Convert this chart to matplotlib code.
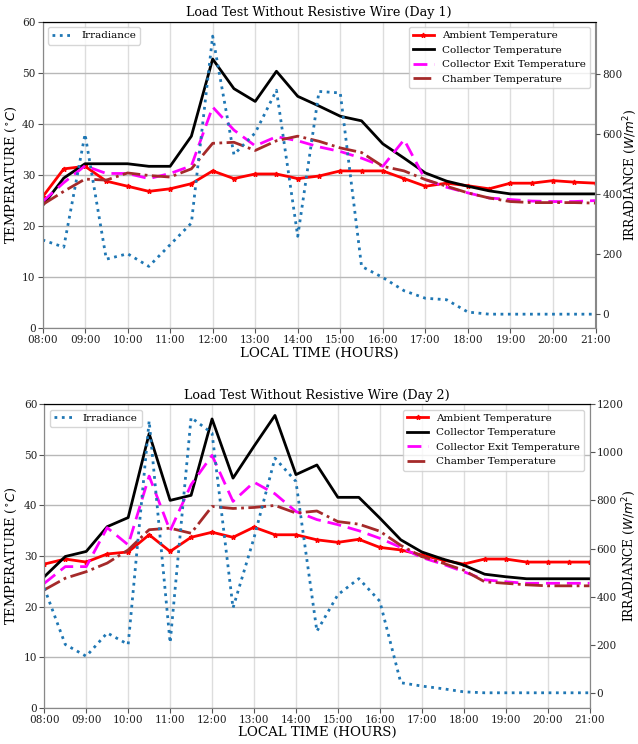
import matplotlib.pyplot as plt

plt.rcParams['font.family'] = ['DejaVu Serif']

# 08:00 - 21:00, every half hour
time_hours = [8 + i * 0.5 for i in range(27)]
hour_ticks = list(range(8, 22))
hour_labels = [f"{h:02d}:00" for h in hour_ticks]

# Day 1
amb1 = [25.7, 31.2, 31.7, 28.8, 27.8, 26.8, 27.3, 28.3, 30.8, 29.3, 30.2, 30.2, 29.3, 29.8,
        30.8, 30.8, 30.8, 29.3, 27.8, 28.4, 27.9, 27.3, 28.4, 28.4, 28.9, 28.6, 28.4]
col1 = [24.0, 29.4, 32.2, 32.2, 32.2, 31.7, 31.7, 37.6, 52.7, 46.9, 44.4, 50.3, 45.4, 43.5,
        41.5, 40.6, 36.1, 33.3, 30.4, 28.8, 27.8, 26.9, 26.3, 26.3, 26.3, 26.3, 26.3]
exit1 = [24.8, 28.5, 31.8, 30.3, 30.3, 29.3, 30.3, 31.8, 43.3, 38.8, 35.7, 37.5, 36.7, 35.5,
         34.6, 33.3, 31.7, 36.9, 29.1, 27.6, 26.5, 25.5, 25.2, 24.9, 24.8, 24.8, 25.0]
cham1 = [24.2, 26.8, 29.2, 29.0, 30.4, 29.9, 29.6, 31.2, 36.2, 36.4, 34.8, 36.7, 37.6, 36.6,
         35.3, 34.4, 31.7, 30.8, 29.1, 27.8, 26.5, 25.5, 24.8, 24.6, 24.6, 24.6, 24.5]
irr1 = [247, 223, 599, 183, 201, 159, 231, 303, 925, 531, 603, 745, 259, 741,
        736, 159, 122, 78, 53, 48, 7, 0, 0, 0, 0, 0, 0]

# Day 2
amb2 = [28.4, 29.4, 28.8, 30.4, 30.8, 34.2, 30.9, 33.7, 34.7, 33.7, 35.7, 34.2, 34.2, 33.2,
        32.7, 33.3, 31.7, 31.2, 30.2, 29.2, 28.4, 29.4, 29.4, 28.8, 28.8, 28.8, 28.8]
col2 = [25.9, 29.9, 30.9, 35.8, 37.6, 54.2, 41.0, 42.0, 57.1, 45.4, 51.7, 57.8, 46.1, 48.0,
        41.6, 41.6, 37.5, 33.2, 30.8, 29.4, 28.2, 26.4, 25.9, 25.5, 25.5, 25.5, 25.5]
exit2 = [24.6, 27.9, 27.9, 35.6, 32.2, 45.8, 35.0, 44.1, 49.9, 40.8, 44.6, 42.3, 38.8, 37.2,
         36.2, 35.0, 33.5, 31.7, 29.7, 28.4, 26.9, 25.3, 24.9, 24.6, 24.6, 24.6, 24.6]
cham2 = [23.3, 25.6, 26.9, 28.6, 31.2, 35.2, 35.5, 34.5, 39.8, 39.4, 39.6, 40.0, 38.5, 38.9,
         36.8, 36.3, 34.9, 32.1, 29.9, 28.6, 27.2, 24.9, 24.6, 24.3, 24.1, 24.1, 24.1]
irr2 = [436, 201, 152, 249, 201, 1131, 208, 1145, 1080, 353, 644, 976, 879, 256,
        408, 475, 381, 42, 28, 17, 4, 0, 0, 0, 0, 0, 0]

W, H = 638, 744
fig = plt.figure(figsize=(W / 100, H / 100), dpi=100)


def draw(rect, day, amb, col, ext, cham, irr, irr_lim, irr_ticks, lab_left, lab_right):
    l, t, r, b = rect
    ax = fig.add_axes([l / W, 1 - b / H, (r - l) / W, (b - t) / H])
    ax2 = ax.twinx()

    ax.plot(time_hours, amb, color="red", lw=2, marker="*", ms=3.5, label="Ambient Temperature")
    ax.plot(time_hours, col, color="black", lw=2, label="Collector Temperature")
    ax.plot(time_hours, ext, color="magenta", lw=2, ls="--", dashes=(5, 2.5),
            label="Collector Exit Temperature")
    ax.plot(time_hours, cham, color="brown", lw=2, ls="-.", label="Chamber Temperature")
    ax2.plot(time_hours, irr, color="tab:blue", lw=2, ls=":", label="Irradiance")

    ax.set_xlim(8, 21)
    ax.set_ylim(0, 60)
    ax.set_xticks(hour_ticks)
    ax.set_xticklabels(hour_labels)
    ax.tick_params(labelsize=7.6, pad=1.5)
    ax2.tick_params(labelsize=7.6, pad=1.5)
    ax2.set_ylim(*irr_lim)
    if irr_ticks is not None:
        ax2.set_yticks(irr_ticks)

    ax.grid(axis="x", color="#dddddd", lw=1)
    ax.grid(axis="y", color="#b8b8b8", lw=1)
    for a in (ax, ax2):
        for s in ("left", "right", "bottom"):
            a.spines[s].set_color("#888888")
        a.tick_params(colors="#555555", labelcolor="#222222")

    ax.set_title(f"Load Test Without Resistive Wire (Day {day})", fontsize=9.2, pad=4)
    ax.set_xlabel("LOCAL TIME (HOURS)", fontsize=9.6, labelpad=1)
    ax.set_ylabel(r"TEMPERATURE ($^{\circ}C$)", fontsize=9.4)
    ax2.set_ylabel(r"IRRADIANCE ($W/m^2$)", fontsize=8.7)
    ax.yaxis.set_label_coords(lab_left, 0.5)
    ax2.yaxis.set_label_coords(lab_right, 0.5)

    ax.legend(loc="upper right", fontsize=7.5)
    ax2.legend(loc="upper left", fontsize=7.5)


draw((42.5, 21.7, 595.5, 328.3), 1, amb1, col1, exit1, cham1, irr1, (-47, 973),
     [0, 200, 400, 600, 800], -0.043, 1.047)
draw((44.3, 404.3, 589.5, 707.7), 2, amb2, col2, exit2, cham2, irr2, (-62, 1200),
     None, -0.047, 1.057)

fig.savefig("out.png", dpi=100)
